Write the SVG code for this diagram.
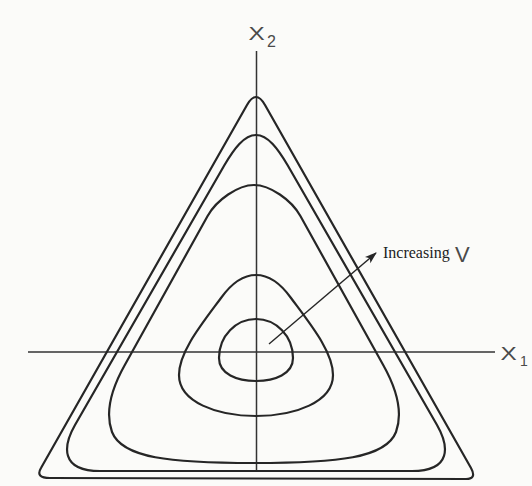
<svg xmlns="http://www.w3.org/2000/svg" width="532" height="486" viewBox="0 0 532 486">
<style>
.curve{fill:none;stroke:#262626;stroke-width:2.2;stroke-linejoin:round;stroke-linecap:round}
.axis{fill:none;stroke:#333;stroke-width:1.5}
.hand{font-family:"Liberation Sans",Arial,sans-serif;fill:#4a4a4a}
.serif{font-family:"Liberation Serif","Times New Roman",serif;fill:#222}
</style>
<defs>
<marker id="ah" markerWidth="12" markerHeight="10" refX="11" refY="5" orient="auto" markerUnits="userSpaceOnUse">
<path d="M0,0.8 L12,5 L0,9.2 L3,5 Z" fill="#262626"/>
</marker>
</defs>
<rect width="532" height="486" fill="#fbfbf9"/>
<g id="axes">
<line class="axis" x1="28" y1="352" x2="495" y2="352"/>
<line class="axis" x1="256.5" y1="51" x2="256.5" y2="472"/>
</g>
<g id="contour1"><path class="curve" d="M247,105 Q256,89 265,105 L471,468 Q477,479 466,479 L50,478 Q35,478 41,468 Z"/></g>
<g id="contour2"><path class="curve" d="M256,135 C268,135 278,149 287.5,165 L437,425 C449,446 452,471 412,471 L100,471 C60,471 63,446 75,425 L224.5,165 C234,149 244,135 256,135 Z"/></g>
<g id="contour3"><path class="curve" d="M254,185 C270,185 291.5,200 300.4,216 L383.2,365 C395,386 404,410 396,432 C386,458 338,463 254,463 C170,463 122,458 112,432 C104,410 113,386 124.8,365 L207.6,216 C216.5,200 238,185 254,185 Z"/></g>
<g id="contour4"><path class="curve" d="M256,275 C270,275 281,284 291,298 C311,325 333,352 333,375 C333,402 295,416 256,416 C217,416 179,402 179,375 C179,352 201,325 221,298 C231,284 242,275 256,275 Z"/></g>
<g id="contour5"><path class="curve" d="M256,319 C276,319 293,336 293,358 C293,374 275,381 256,381 C237,381 219,374 219,358 C219,336 236,319 256,319 Z"/></g>
<g id="label-x2"><text class="hand" font-size="18" text-anchor="middle" transform="translate(256.5,40) scale(1.35,1)">X</text><text class="hand" x="267" y="47" font-size="16">2</text></g>
<g id="label-x1"><text class="hand" font-size="18" text-anchor="middle" transform="translate(508.5,360) scale(1.35,1)">X</text><text class="hand" x="520" y="366" font-size="14">1</text></g>
<g id="label-v"><text class="serif" x="383" y="258" font-size="16">Increasing</text><text class="hand" x="455" y="262" font-size="22">V</text></g>
<g id="connectors">
<line x1="269" y1="344" x2="376" y2="253" stroke="#262626" stroke-width="1.4" marker-end="url(#ah)"/>
</g>
</svg>
